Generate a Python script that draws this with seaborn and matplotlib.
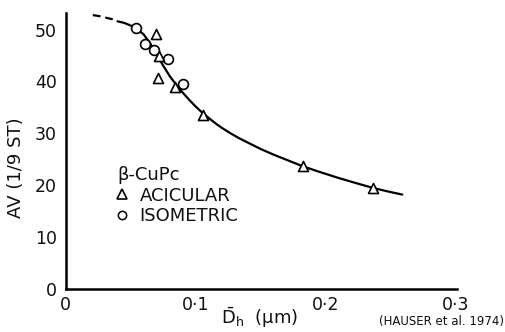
import matplotlib
matplotlib.use("Agg")
import matplotlib.pyplot as plt
import seaborn as sns
from matplotlib.lines import Line2D

sns.set_theme(style="white")
plt.rcParams["font.family"] = ["DejaVu Sans"]
plt.rcParams["mathtext.fontset"] = "dejavusans"

# Measured points
acicular_d = [0.0696, 0.0722, 0.0709, 0.084, 0.106, 0.1825, 0.2368]
acicular_av = [49.2, 45.0, 40.7, 38.9, 33.5, 23.8, 19.4]
isometric_d = [0.054, 0.061, 0.068, 0.079, 0.090]
isometric_av = [50.3, 47.3, 46.1, 44.4, 39.5]

# Trend curve: extrapolated (dashed) and fitted (solid) parts
trend_dashed_d = [0.021, 0.026, 0.031, 0.036, 0.040]
trend_dashed_av = [52.8, 52.6, 52.3, 52.0, 51.6]
trend_solid_d = [0.040, 0.045, 0.050, 0.055, 0.060, 0.065, 0.070, 0.075, 0.080,
                 0.085, 0.090, 0.095, 0.100, 0.106, 0.110, 0.115, 0.120, 0.127,
                 0.134, 0.142, 0.150, 0.160, 0.170, 0.182, 0.195, 0.210, 0.225,
                 0.237, 0.248, 0.259]
trend_solid_av = [51.6, 51.3, 50.8, 50.1, 49.1, 47.4, 45.3, 43.1, 41.1,
                  39.4, 37.9, 36.5, 35.2, 33.8, 33.0, 32.0, 31.1, 30.0,
                  29.0, 28.0, 27.0, 25.9, 24.9, 23.7, 22.6, 21.4, 20.3,
                  19.45, 18.8, 18.2]

x_ticks = [0, 0.1, 0.2, 0.3]
x_tick_labels = ["0", "0·1", "0·2", "0·3"]
y_ticks = [0, 10, 20, 30, 40, 50]
y_tick_labels = ["0", "10", "20", "30", "40", "50"]

fig = plt.figure(figsize=(5.06, 3.32), dpi=100)
ax = fig.add_axes([65.5 / 506, 43 / 332, 392 / 506, 276 / 332])

sns.lineplot(x=trend_dashed_d, y=trend_dashed_av, ax=ax, color="black",
             linewidth=1.6, linestyle=(0, (3.5, 2.2)), sort=False)
sns.lineplot(x=trend_solid_d, y=trend_solid_av, ax=ax, color="black",
             linewidth=1.6, sort=False)

sns.scatterplot(x=isometric_d, y=isometric_av, ax=ax, marker="o", s=50,
                facecolor="white", edgecolor="black", linewidth=1.2, zorder=3)
sns.scatterplot(x=acicular_d, y=acicular_av, ax=ax, marker="^", s=52,
                facecolor="white", edgecolor="black", linewidth=1.2, zorder=3)

ax.set_xlim(0, 0.3015)
ax.set_ylim(0, 53.2)
ax.set_xticks(x_ticks)
ax.set_xticklabels(x_tick_labels)
ax.set_yticks(y_ticks)
ax.set_yticklabels(y_tick_labels)
ax.tick_params(axis="both", direction="in", length=9, width=1.3, color="black",
               labelsize=12.5, labelcolor="#111111")
ax.tick_params(axis="y", pad=6)
ax.tick_params(axis="x", pad=5)

for side in ("top", "right"):
    ax.spines[side].set_visible(False)
for side in ("left", "bottom"):
    ax.spines[side].set_linewidth(1.8)
    ax.spines[side].set_color("black")

ax.set_ylabel("AV (1/9 ST)", fontsize=13, color="#111111")
ax.yaxis.set_label_coords(-0.103, 0.44)
ax.set_xlabel("")

fig.text(260 / 506, 1 - 318 / 332, r"$\bar{\mathrm{D}}_{\mathrm{h}}$  (μm)",
         fontsize=13, ha="center", va="center", color="#111111")
fig.text(504 / 506, 1 - 321 / 332, "(HAUSER et al. 1974)", fontsize=8.5,
         ha="right", va="center", color="#111111")

handles = [
    Line2D([], [], marker="^", linestyle="none", markersize=6.5,
           markerfacecolor="white", markeredgecolor="black", markeredgewidth=1.2),
    Line2D([], [], marker="o", linestyle="none", markersize=6,
           markerfacecolor="white", markeredgecolor="black", markeredgewidth=1.1),
]
leg = ax.legend(handles, ["ACICULAR", "ISOMETRIC"], title="β-CuPc",
                loc="upper left", bbox_to_anchor=(117 / 506, 1 - 166 / 332),
                bbox_transform=fig.transFigure, frameon=False, fontsize=13,
                title_fontsize=13, handlelength=0.6, handletextpad=0.65,
                labelspacing=0.15, borderpad=0, borderaxespad=0,
                alignment="left")
for t in leg.get_texts():
    t.set_color("#111111")
leg.get_title().set_color("#111111")

fig.savefig("out.png", dpi=100, facecolor="white")
